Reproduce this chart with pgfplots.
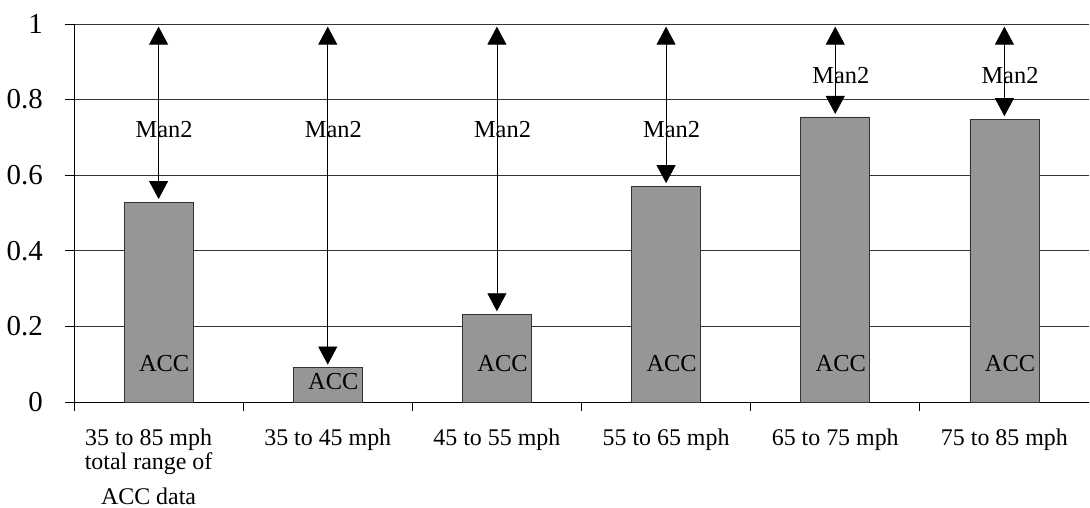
\documentclass[border=0pt]{standalone}
\usepackage{fontspec}
\setmainfont{Liberation Serif}
\usepackage{pgfplots}
\pgfplotsset{compat=1.18}
\usetikzlibrary{arrows.meta}
\definecolor{barg}{RGB}{150,150,150}
\begin{document}
\begin{tikzpicture}
\begin{axis}[
 at={(74bp,106bp)}, anchor=south west,
 scale only axis, width=1015bp, height=378bp,
 xmin=0, xmax=6, ymin=0, ymax=1,
 axis x line*=bottom, axis y line*=left,
 axis line style={black, line width=0.8bp, -},
 ytick={0,0.2,0.4,0.6,0.8,1},
 yticklabels={0,0.2,0.4,0.6,0.8,1},
 ymajorgrids, grid style={black!80, line width=0.8bp},
 xtick={0,1,2,3,4,5}, xticklabels={},
 tick align=outside, major tick length=9bp,
 tick style={black, line width=0.8bp},
 extra x ticks={0.5,1.5,2.5,3.5,4.5,5.5},
 extra x tick labels={{\kern-20bp 35 to 85 mph\\[-4bp]\kern-20bp total range of\\[7bp]\kern-20bp ACC data},{35 to 45 mph},{45 to 55 mph},{55 to 65 mph},{65 to 75 mph},{75 to 85 mph}},
 extra x tick style={major tick length=0pt, grid=none, tick style={draw=none}},
 x tick label style={font=\fontsize{24}{28}\selectfont, align=center, anchor=north, inner sep=0pt, yshift=-27bp},
 y tick label style={font=\fontsize{29}{34}\selectfont, anchor=east, inner sep=0pt, xshift=-22bp},
 clip=false,
]
\addplot[ybar, bar width=69bp, fill=barg, draw=black!80, line width=0.8bp] coordinates {
 (0.5,0.529) (1.5,0.091) (2.5,0.232) (3.5,0.571) (4.5,0.754) (5.5,0.748)};
\addplot[black, line width=0.8bp, mark=none,
 {Triangle[width=19bp,length=18bp]}-{Triangle[width=19bp,length=18bp]},
 quiver={u=0, v=\thisrow{v}}] table[x=x, y=y] {
x y v
0.5 0.537 0.456
1.5 0.099 0.894
2.5 0.240 0.753
3.5 0.579 0.414
4.5 0.762 0.231
5.5 0.756 0.237
};
\addplot[draw=none, mark=none, nodes near coords, point meta=explicit symbolic,
 every node near coord/.style={anchor=center, inner sep=0pt, font=\fontsize{24.5}{28}\selectfont}]
 table[x=x, y=y, meta=t] {
x y t
0.533 0.722 Man2
1.533 0.722 Man2
2.533 0.722 Man2
3.533 0.722 Man2
4.533 0.863 Man2
5.533 0.863 Man2
0.533 0.103 ACC
1.533 0.054 ACC
2.533 0.103 ACC
3.533 0.103 ACC
4.533 0.103 ACC
5.533 0.103 ACC
};
\end{axis}
\pgfresetboundingbox
\path[use as bounding box] (0,0) rectangle (1090bp,508bp);
\end{tikzpicture}
\end{document}
